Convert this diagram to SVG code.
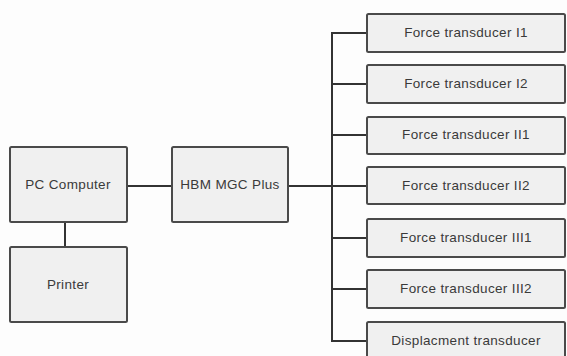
<svg xmlns="http://www.w3.org/2000/svg" width="567" height="356" viewBox="0 0 567 356">
<style>
.box{fill:#f0f0f0;stroke:#4a4a4a;stroke-width:2}
.lbl{font-family:"Liberation Sans",Arial,sans-serif;font-size:13.5px;letter-spacing:0.35px;fill:#3a3a3a;text-anchor:middle;dominant-baseline:central}
.ln{stroke:#333;stroke-width:2;fill:none}
</style>
<rect width="567" height="356" fill="#fdfdfd"/>
<g id="connectors">
<line class="ln" x1="127" y1="186" x2="172" y2="186"/>
<line class="ln" x1="65" y1="222" x2="65" y2="247"/>
<line class="ln" x1="288" y1="186" x2="332" y2="186"/>
<line class="ln" x1="332" y1="33" x2="332" y2="342"/>
<line class="ln" x1="331" y1="33" x2="367" y2="33"/>
<line class="ln" x1="332" y1="84" x2="367" y2="84"/>
<line class="ln" x1="332" y1="135" x2="367" y2="135"/>
<line class="ln" x1="332" y1="186" x2="367" y2="186"/>
<line class="ln" x1="332" y1="238" x2="367" y2="238"/>
<line class="ln" x1="332" y1="289" x2="367" y2="289"/>
<line class="ln" x1="331" y1="341" x2="367" y2="341"/>
</g>
<g id="pc"><rect class="box" x="10" y="147" width="117" height="75" rx="1.5"/><text class="lbl" x="68" y="184">PC Computer</text></g>
<g id="printer"><rect class="box" x="10" y="247" width="117" height="75" rx="1.5"/><text class="lbl" x="68" y="284">Printer</text></g>
<g id="hbm"><rect class="box" x="172" y="147" width="116" height="75" rx="1.5"/><text class="lbl" x="230" y="184">HBM MGC Plus</text></g>
<g id="ft1"><rect class="box" x="367" y="14" width="198" height="38" rx="1.5"/><text class="lbl" x="466" y="32">Force transducer I1</text></g>
<g id="ft2"><rect class="box" x="367" y="65" width="198" height="38" rx="1.5"/><text class="lbl" x="466" y="83">Force transducer I2</text></g>
<g id="ft3"><rect class="box" x="367" y="117" width="198" height="37" rx="1.5"/><text class="lbl" x="466" y="134">Force transducer II1</text></g>
<g id="ft4"><rect class="box" x="367" y="167" width="198" height="37" rx="1.5"/><text class="lbl" x="466" y="185">Force transducer II2</text></g>
<g id="ft5"><rect class="box" x="367" y="219" width="198" height="38" rx="1.5"/><text class="lbl" x="466" y="237">Force transducer III1</text></g>
<g id="ft6"><rect class="box" x="367" y="270" width="198" height="38" rx="1.5"/><text class="lbl" x="466" y="288">Force transducer III2</text></g>
<g id="disp"><rect class="box" x="367" y="322" width="198" height="40" rx="1.5"/><text class="lbl" x="466" y="340">Displacment transducer</text></g>
</svg>
